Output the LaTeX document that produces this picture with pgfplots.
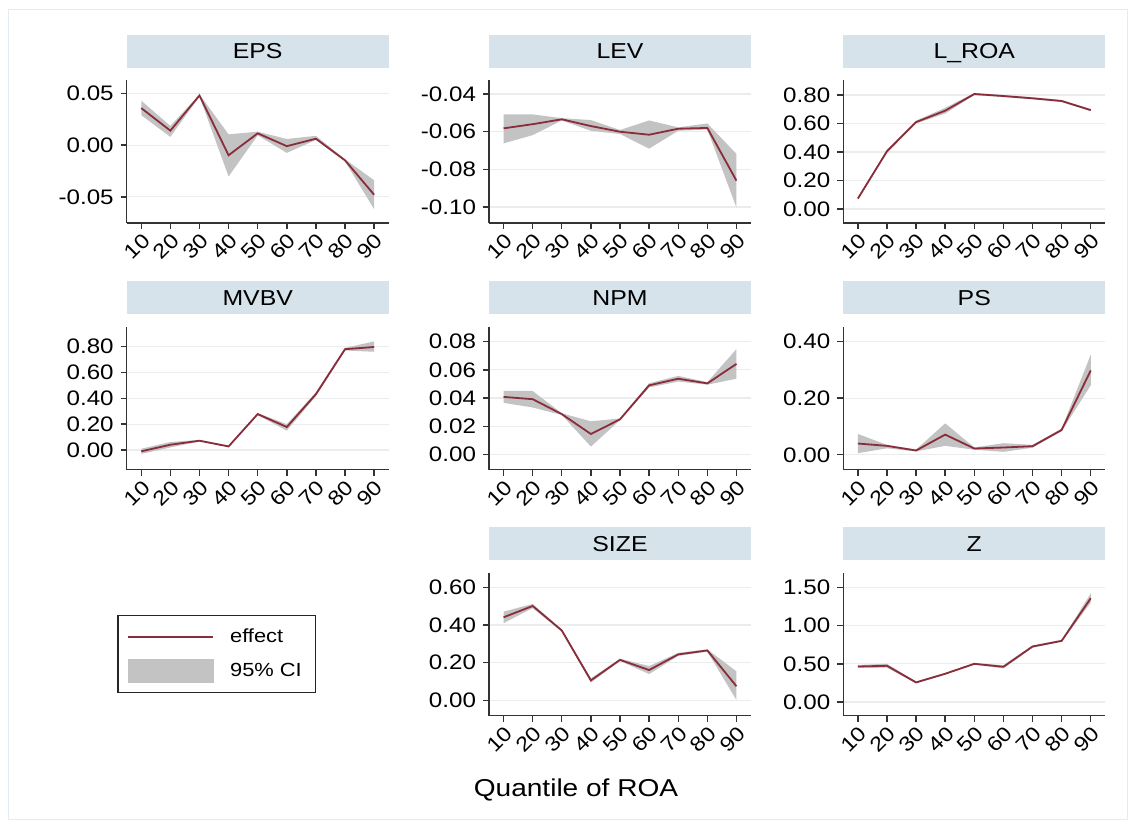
\documentclass[border=0pt]{standalone}
\usepackage{fontspec}
\setmainfont{Liberation Sans}[FakeStretch=1.15]
\usepackage{pgfplots}
\pgfplotsset{compat=1.18}

\definecolor{effectc}{RGB}{138,45,58}
\definecolor{cigray}{RGB}{195,195,195}
\definecolor{stripc}{RGB}{214,227,234}
\definecolor{gridc}{RGB}{234,236,238}
\definecolor{framec}{RGB}{228,236,241}

\pgfplotsset{
  panel/.style={
    scale only axis, width=131pt, height=71.5pt,
    anchor=north west,
    axis lines*=left,
    axis line style={line width=0.7pt, color=black!80},
    xmin=5, xmax=95, xtick={10,20,30,40,50,60,70,80,90},
    scaled y ticks=false, scaled x ticks=false,
    ymajorgrids, grid style={line width=0.6pt, gridc},
    tick style={line width=0.7pt, black!80},
    tick align=outside, major tick length=3pt,
    /pgf/number format/assume math mode=true,
    xticklabel style={rotate=45, anchor=north east, inner sep=1pt,
      font=\fontsize{10.2}{12}\selectfont},
    yticklabel style={font=\fontsize{10.5}{12}\selectfont,
      /pgf/number format/fixed, /pgf/number format/fixed zerofill,
      /pgf/number format/precision=2},
    title style={fill=stripc, minimum width=131pt, minimum height=16.5pt,
      inner sep=0pt, text height=7.8pt, text depth=0pt,
      font=\fontsize{10.8}{12}\selectfont},
  },
  ci/.style={fill=cigray, draw=none, forget plot},
  eff/.style={effectc, line width=0.9pt, no marks},
}

\begin{document}
\begin{tikzpicture}
\fill[white] (0,0) rectangle (567.5pt,414pt);
\path[use as bounding box] (0,0) rectangle (567.5pt,414pt);
\draw[framec, line width=0.5pt] (4pt,4pt) rectangle (563.5pt,409pt);

% EPS
\begin{axis}[panel, at={(63.35pt,374pt)}, title={EPS}, ymin=-0.0753, ymax=0.063, ytick={-0.05,0,0.05}]
\addplot[ci] coordinates {(10,0.0430) (20,0.0186) (30,0.0490) (40,0.0104) (50,0.0130) (60,0.0059) (70,0.0090) (80,-0.0137) (90,-0.0340)
 (90,-0.0620) (80,-0.0157) (70,0.0050) (60,-0.0075) (50,0.0095) (40,-0.0303) (30,0.0470) (20,0.0080) (10,0.0290)} -- cycle;
\addplot[eff] coordinates {(10,0.0358) (20,0.0140) (30,0.0480) (40,-0.0098) (50,0.0114) (60,-0.0010) (70,0.0062) (80,-0.0147) (90,-0.0480)};
\end{axis}

% LEV
\begin{axis}[panel, at={(244.5pt,374pt)}, title={LEV}, ymin=-0.1085, ymax=-0.0325, ytick={-0.10,-0.08,-0.06,-0.04}]
\addplot[ci] coordinates {(10,-0.0508) (20,-0.0508) (30,-0.0528) (40,-0.0538) (50,-0.0591) (60,-0.0540) (70,-0.0577) (80,-0.0556) (90,-0.0718)
 (90,-0.1003) (80,-0.0588) (70,-0.0595) (60,-0.0690) (50,-0.0612) (40,-0.0595) (30,-0.0540) (20,-0.0618) (10,-0.0662)} -- cycle;
\addplot[eff] coordinates {(10,-0.0582) (20,-0.0560) (30,-0.0534) (40,-0.0570) (50,-0.0600) (60,-0.0616) (70,-0.0584) (80,-0.0580) (90,-0.0860)};
\end{axis}

% L_ROA
\begin{axis}[panel, at={(421.65pt,374pt)}, title={L\_ROA}, ymin=-0.0985, ymax=0.9056, ytick={0,0.2,0.4,0.6,0.8}]
\addplot[ci] coordinates {(10,0.080) (20,0.415) (30,0.620) (40,0.710) (50,0.814) (60,0.800) (70,0.784) (80,0.765) (90,0.701)
 (90,0.687) (80,0.751) (70,0.770) (60,0.786) (50,0.800) (40,0.670) (30,0.600) (20,0.395) (10,0.065)} -- cycle;
\addplot[eff] coordinates {(10,0.073) (20,0.405) (30,0.610) (40,0.690) (50,0.807) (60,0.793) (70,0.777) (80,0.758) (90,0.694)};
\end{axis}

% MVBV
\begin{axis}[panel, at={(63.35pt,250.65pt)}, title={MVBV}, ymin=-0.152, ymax=0.954, ytick={0,0.2,0.4,0.6,0.8}]
\addplot[ci] coordinates {(10,0.010) (20,0.062) (30,0.078) (40,0.034) (50,0.286) (60,0.200) (70,0.447) (80,0.790) (90,0.840)
 (90,0.760) (80,0.770) (70,0.417) (60,0.150) (50,0.270) (40,0.022) (30,0.066) (20,0.020) (10,-0.030)} -- cycle;
\addplot[eff] coordinates {(10,-0.010) (20,0.041) (30,0.072) (40,0.028) (50,0.278) (60,0.178) (70,0.432) (80,0.780) (90,0.797)};
\end{axis}

% NPM
\begin{axis}[panel, at={(244.5pt,250.65pt)}, title={NPM}, ymin=-0.0108, ymax=0.0906, ytick={0,0.02,0.04,0.06,0.08}]
\addplot[ci] coordinates {(10,0.0450) (20,0.0450) (30,0.0292) (40,0.0235) (50,0.0255) (60,0.0505) (70,0.0557) (80,0.0513) (90,0.0747)
 (90,0.0537) (80,0.0495) (70,0.0517) (60,0.0475) (50,0.0243) (40,0.0056) (30,0.0280) (20,0.0333) (10,0.0366)} -- cycle;
\addplot[eff] coordinates {(10,0.0408) (20,0.0392) (30,0.0286) (40,0.0145) (50,0.0249) (60,0.0490) (70,0.0537) (80,0.0504) (90,0.0642)};
\end{axis}

% PS
\begin{axis}[panel, at={(421.65pt,250.65pt)}, title={PS}, ymin=-0.0526, ymax=0.4526, ytick={0,0.2,0.4}]
\addplot[ci] coordinates {(10,0.0737) (20,0.0350) (30,0.0185) (40,0.1110) (50,0.0260) (60,0.0410) (70,0.0350) (80,0.0920) (90,0.3540)
 (90,0.2456) (80,0.0830) (70,0.0250) (60,0.0105) (50,0.0180) (40,0.0316) (30,0.0120) (20,0.0230) (10,0.0058)} -- cycle;
\addplot[eff] coordinates {(10,0.0398) (20,0.0316) (30,0.0152) (40,0.0713) (50,0.0222) (60,0.0257) (70,0.0304) (80,0.0877) (90,0.2980)};
\end{axis}

% SIZE
\begin{axis}[panel, at={(244.5pt,127.65pt)}, title={SIZE}, ymin=-0.0812, ymax=0.6777, ytick={0,0.2,0.4,0.6}]
\addplot[ci] coordinates {(10,0.471) (20,0.512) (30,0.377) (40,0.117) (50,0.221) (60,0.182) (70,0.252) (80,0.271) (90,0.154)
 (90,0.002) (80,0.259) (70,0.236) (60,0.140) (50,0.209) (40,0.095) (30,0.365) (20,0.490) (10,0.410)} -- cycle;
\addplot[eff] coordinates {(10,0.441) (20,0.501) (30,0.371) (40,0.106) (50,0.215) (60,0.161) (70,0.244) (80,0.265) (90,0.075)};
\end{axis}

% Z
\begin{axis}[panel, at={(421.65pt,127.65pt)}, title={Z}, ymin=-0.178, ymax=1.691, ytick={0,0.5,1,1.5}]
\addplot[ci] coordinates {(10,0.485) (20,0.500) (30,0.269) (40,0.380) (50,0.510) (60,0.482) (70,0.740) (80,0.812) (90,1.420)
 (90,1.300) (80,0.788) (70,0.712) (60,0.440) (50,0.490) (40,0.360) (30,0.245) (20,0.450) (10,0.445)} -- cycle;
\addplot[eff] coordinates {(10,0.465) (20,0.474) (30,0.257) (40,0.370) (50,0.500) (60,0.461) (70,0.726) (80,0.800) (90,1.357)};
\end{axis}

% legend
\begin{axis}[at={(58.65pt,106.5pt)}, anchor=north west, scale only axis,
  width=100pt, height=37.5pt, hide axis, xmin=0, xmax=1, ymin=0, ymax=1,
  legend cell align=left,
  legend style={at={(0,1)}, anchor=north west, draw=black!85, line width=0.6pt,
    fill=white, inner xsep=4.7pt, inner ysep=4.5pt, row sep=5pt,
    font=\fontsize{9.5}{11}\selectfont,
    /tikz/every odd column/.append style={column sep=6pt}}]
\addlegendimage{legend image code/.code={\draw[effectc, line width=0.9pt] (0pt,0pt) -- (42.5pt,0pt);}}
\addlegendentry{effect}
\addlegendimage{legend image code/.code={\fill[cigray] (0pt,-5.7pt) rectangle (42.5pt,5.7pt);}}
\addlegendentry{95\% CI}
\end{axis}

\node[font=\fontsize{12.2}{14}\selectfont] at (288pt,19pt) {Quantile of ROA};
\end{tikzpicture}
\end{document}
